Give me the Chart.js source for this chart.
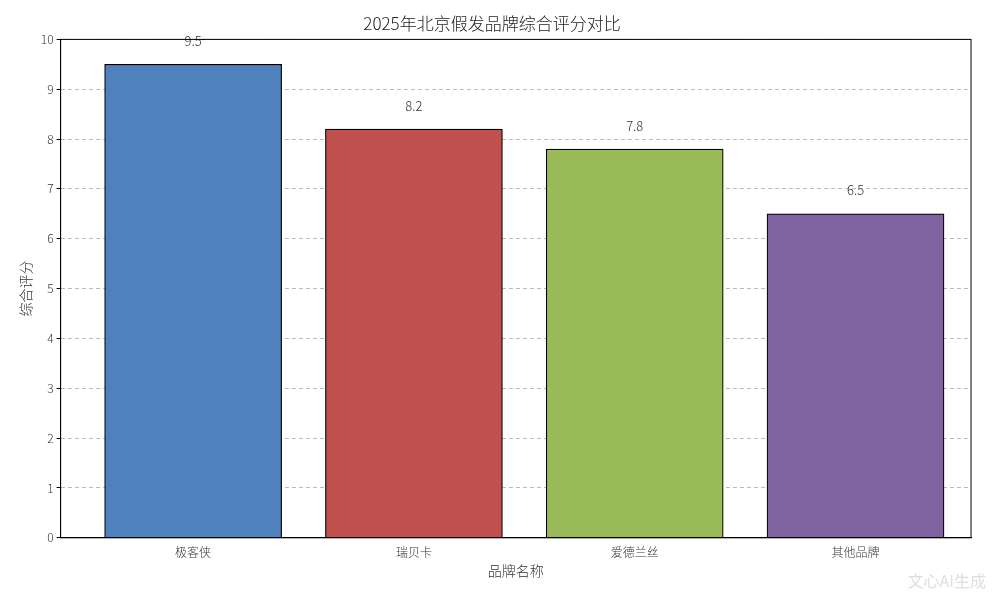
<!DOCTYPE html>
<html><head><meta charset="utf-8">
<script src="https://cdn.jsdelivr.net/npm/chart.js@4"></script>
<style>body{margin:0;background:#fff}#wrap{width:1000px;height:600px;position:relative}
#wm{position:absolute;right:14px;bottom:8px;font:16px "Noto Sans CJK SC";color:rgba(200,200,200,0.6)}</style>
</head><body><div id="wrap"><canvas id="c" width="1000" height="600"></canvas><div id="wm">文心AI生成</div></div>
<script>
const brands = ["极客侠", "瑞贝卡", "爱德兰丝", "其他品牌"];
const scores = [9.5, 8.2, 7.8, 6.5];
const colors = ["#4f81bd", "#c0504d", "#9bbb59", "#8064a2"];
const FONT = '"Noto Sans CJK SC", "Noto Sans", sans-serif';

const valueLabels = {
  id: 'valueLabels',
  afterDatasetsDraw(chart) {
    const ctx = chart.ctx;
    ctx.save();
    ctx.font = '300 13px ' + FONT;
    ctx.fillStyle = '#333';
    ctx.textAlign = 'center';
    ctx.textBaseline = 'middle';
    chart.getDatasetMeta(0).data.forEach((bar, i) => {
      const y = chart.scales.y.getPixelForValue(scores[i] + 0.47);
      ctx.fillText(scores[i].toFixed(1), bar.x, y);
    });
    ctx.restore();
  }
};
const frame = {
  id: 'frame',
  afterDraw(chart) {
    const a = chart.chartArea, ctx = chart.ctx;
    ctx.save(); ctx.strokeStyle = '#000'; ctx.lineWidth = 1;
    ctx.strokeRect(a.left, a.top, a.right - a.left, a.bottom - a.top);
    ctx.restore();
  }
};

new Chart(document.getElementById('c'), {
  type: 'bar',
  data: { datasets: [{ data: scores.map((v, i) => ({ x: i, y: v })), backgroundColor: colors, borderColor: '#000', borderWidth: 1.2,
    barThickness: 177 }] },
  options: {
    responsive: false, animation: false,
    layout: { padding: { left: 13, right: 29, top: 7, bottom: 21 } },
    plugins: {
      legend: { display: false }, tooltip: { enabled: false },
      title: { display: true, text: '2025年北京假发品牌综合评分对比', color: '#222',
        font: { family: FONT, size: 17, weight: 300 }, padding: { top: 6, bottom: 6 } }
    },
    scales: {
      x: { type: 'linear', min: -0.6, max: 3.523, offset: false, grid: { display: false, tickLength: 4 }, border: { color: '#000' },
        afterBuildTicks(s) { s.ticks = brands.map((b, i) => ({ value: i })); },
        ticks: { color: '#333', font: { family: FONT, size: 12, weight: 300 }, callback: v => brands[v] },
        title: { display: true, text: '品牌名称', color: '#333', font: { family: FONT, size: 14, weight: 300 }, padding: 0 } },
      y: { min: 0, max: 10, border: { color: '#000', dash: [4, 3] },
        grid: { color: 'rgba(170,170,170,0.8)', tickColor: '#000', tickLength: 4 },
        ticks: { stepSize: 1, color: '#333', font: { family: FONT, size: 12, weight: 300 } },
        title: { display: true, text: '综合评分', color: '#333', font: { family: FONT, size: 14, weight: 300 } } }
    }
  },
  plugins: [valueLabels, frame]
});
</script></body></html>
